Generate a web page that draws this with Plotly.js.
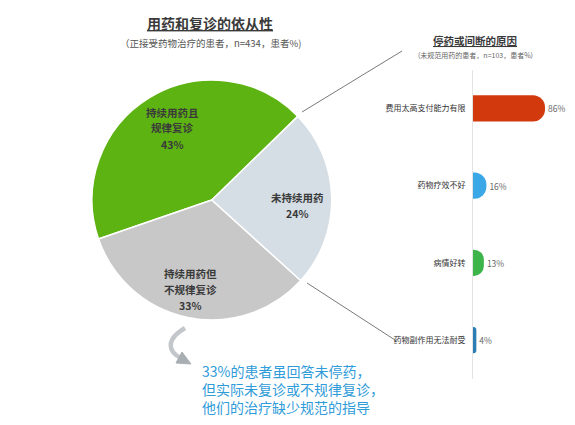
<!DOCTYPE html>
<html>
<head>
<meta charset="utf-8">
<script src="https://cdn.plot.ly/plotly-3.0.1.min.js"></script>
<style>body{margin:0;background:#fff}</style>
</head>
<body>
<div id="chart" style="width:575px;height:425px"></div>
<script>
// pie: adherence to medication and follow-up
const pieLabels = ['持续用药且<br>规律复诊', '持续用药但<br>不规律复诊', '未持续用药']
const pieValues = [43, 33, 24]
const pieColors = ['#5db312', '#c8c8c8', '#d5dee5']

// bars: reasons for stopping
const reasons = ['费用太高支付能力有限', '药物疗效不好', '病情好转', '药物副作用无法耐受']
const reasonPct = [86, 16, 13, 4]
const barColors = ['#d23a0e', '#3aa7e6', '#3db54a', '#2b7db4']

const font = '"Noto Sans CJK SC", "Noto Sans", sans-serif'

var pieData = {
  type: 'pie',
  labels: pieLabels,
  values: pieValues,
  sort: false,
  direction: 'counterclockwise',
  rotation: -109,
  marker: {colors: pieColors, line: {color: '#ffffff', width: 1.5}},
  textinfo: 'none',
  hoverinfo: 'label+percent',
  showlegend: false,
  domain: {x: [0.16, 0.577], y: [0.247, 0.812]}
};

var barData = {
  type: 'bar',
  orientation: 'h',
  x: reasonPct,
  y: reasons,
  xaxis: 'x2',
  yaxis: 'y2',
  width: 0.34,
  marker: {color: barColors, cornerradius: 12},
  text: reasonPct.map(v => v + '%'),
  textposition: 'outside',
  cliponaxis: false,
  textfont: {family: font, size: 8.5, color: '#666'},
  showlegend: false
};

// pie label spots (pixels): centre x, y of first line, line step
const piePos = [[172, 112, 16], [190, 273, 16], [297, 198, 15]]

var annotations = [
  {x: 210, y: 23, text: '<b><u>用药和复诊的依从性</u></b>', font: {size: 14, color: '#3a3a3a'}},
  {x: 210, y: 43, text: '（正接受药物治疗的患者，n=434，患者%)', font: {size: 9.5, color: '#555'}},
  {x: 475, y: 41, text: '<b><u>停药或间断的原因</u></b>', font: {size: 10.5, color: '#3a3a3a'}},
  {x: 475, y: 55, text: '(未规范用药的患者，n=103，患者%)', font: {size: 7, color: '#666'}},
  {x: 200, y: 389, xanchor: 'left',
   text: '33%的患者虽回答未停药，<br>但实际未复诊或不规律复诊，<br>他们的治疗缺少规范的指导',
   font: {size: 14, color: '#2f9bd9'}, align: 'left'}
];
pieLabels.forEach(function (lab, i) {
  var lines = lab.split('<br>').concat([pieValues[i] + '%']);
  lines.forEach(function (t, j) {
    annotations.push({x: piePos[i][0], y: piePos[i][1] + j * piePos[i][2],
      text: '<b>' + t + '</b>',
      font: {size: 10.5, color: '#3a3a3a'}});
  });
});
annotations = annotations.map(function (a) {
  return Object.assign({xref: 'paper', yref: 'paper', showarrow: false,
    xanchor: 'center', yanchor: 'middle'}, a,
    {x: a.x / 575, y: 1 - a.y / 425,
     font: Object.assign({family: font}, a.font)});
});

function px(x, y) { return (x / 575).toFixed(4) + ',' + (1 - y / 425).toFixed(4) }

var layout = {
  width: 575, height: 425,
  margin: {l: 0, r: 0, t: 0, b: 0},
  paper_bgcolor: '#fff', plot_bgcolor: 'rgba(0,0,0,0)',
  font: {family: font},
  xaxis2: {domain: [0.8226, 0.9682], range: [0, 100], visible: false, anchor: 'y2'},
  yaxis2: {domain: [0.109, 0.836], anchor: 'x2', autorange: 'reversed',
    showline: true, linecolor: '#e3e3e3', linewidth: 1, ticks: '',
    ticklabelstandoff: 5, showgrid: false, zeroline: false,
    tickfont: {family: font, size: 8, color: '#333'}},
  annotations: annotations,
  shapes: [
    {type: 'line', xref: 'paper', yref: 'paper', x0: 302/575, y0: 1-112/425, x1: 402/575, y1: 1-51/425,
     line: {color: '#7a7a7a', width: 1}},
    {type: 'line', xref: 'paper', yref: 'paper', x0: 307/575, y0: 1-283/425, x1: 395/575, y1: 1-340/425,
     line: {color: '#7a7a7a', width: 1}},
    // curved arrow
    {type: 'path', xref: 'paper', yref: 'paper',
     path: 'M' + px(185, 328) + ' Q' + px(165, 340) + ' ' + px(173, 352) + ' Q' + px(176, 356) + ' ' + px(181, 358),
     line: {color: '#c3c7cb', width: 4.5}},
    {type: 'path', xref: 'paper', yref: 'paper',
     path: 'M' + px(182, 352) + ' L' + px(191, 364) + ' L' + px(176, 363) + ' Z',
     fillcolor: '#a9aeb3', line: {color: '#a9aeb3', width: 1}}
  ]
};

Plotly.newPlot('chart', [pieData, barData], layout, {displayModeBar: false});
</script>
</body>
</html>
